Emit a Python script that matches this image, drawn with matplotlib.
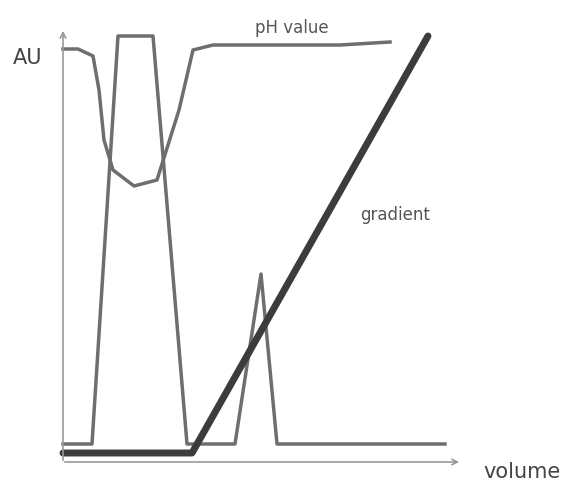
import matplotlib
matplotlib.use("Agg")
import matplotlib.pyplot as plt

# schematic values (volume, AU) in picture units
peak_x = [63, 92, 118, 153, 187, 235, 261, 277, 445]
peak_y = [444, 444, 36, 36, 444, 444, 274, 444, 444]
ph_x = [63, 78, 93, 99, 104, 113, 134, 157, 168, 179, 193, 213, 340, 390]
ph_y = [49, 49, 56, 90, 140, 170, 186, 180, 145, 110, 50, 45, 45, 42]
grad_x = [63, 192, 428]
grad_y = [453, 453, 36]

fig = plt.figure(figsize=(5.74, 4.90), dpi=100)
ax = fig.add_axes([0, 0, 1, 1])
ax.set_xlim(0, 574)
ax.set_ylim(490, 0)
ax.axis("off")

ax.annotate("", xy=(63, 28), xytext=(63, 463),
            arrowprops=dict(arrowstyle="->", color="#999999", lw=1.2))
ax.annotate("", xy=(462, 462), xytext=(62, 462),
            arrowprops=dict(arrowstyle="->", color="#999999", lw=1.2))

ax.plot(peak_x, peak_y, color="#6e6e6e", lw=2.5)
ax.plot(ph_x, ph_y, color="#6e6e6e", lw=2.5)
ax.plot(grad_x, grad_y, color="#3c3c3c", lw=5, solid_capstyle="round")

ax.text(28, 58, "AU", fontsize=15, color="#444444", va="center", ha="center")
ax.text(522, 472, "volume", fontsize=15, color="#444444", va="center", ha="center")
ax.text(292, 28, "pH value", fontsize=12, color="#555555", va="center", ha="center")
ax.text(395, 215, "gradient", fontsize=12, color="#555555", va="center", ha="center")

fig.savefig("out.png", dpi=100)
